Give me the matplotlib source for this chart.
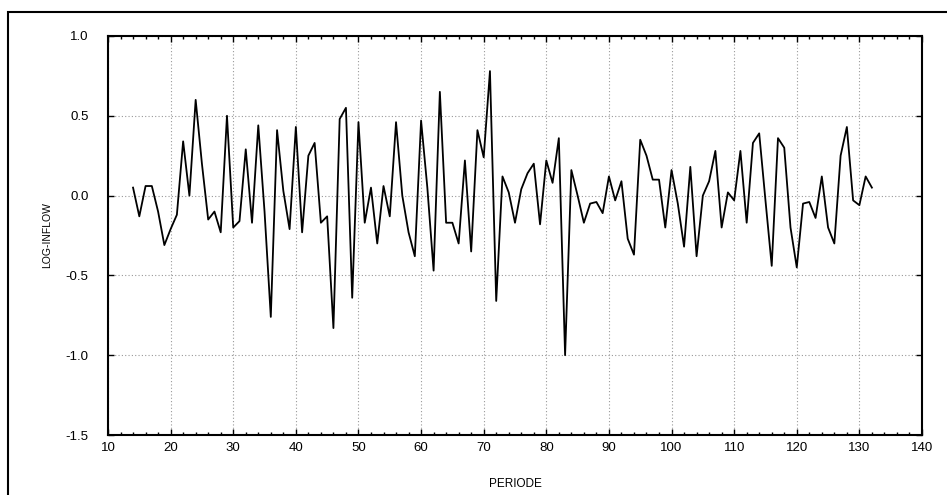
import matplotlib
matplotlib.use('Agg')
import matplotlib.pyplot as plt
from matplotlib.patches import Rectangle
from matplotlib.ticker import MultipleLocator
import numpy as np

plt.rcParams['font.family'] = ['Liberation Sans', 'DejaVu Sans']

# Periods 14..132
periode = list(range(14, 133))

# Log-inflow values
log_inflow = [
    0.05, -0.13, 0.06, 0.06, -0.10, -0.31, -0.21, -0.12, 0.34, 0.00,   # 14-23
    0.60, 0.20, -0.15, -0.10, -0.23, 0.50, -0.20, -0.16, 0.29, -0.17,  # 24-33
    0.44, -0.10, -0.76, 0.41, 0.03, -0.21, 0.43, -0.23, 0.25, 0.33,    # 34-43
    -0.17, -0.13, -0.83, 0.48, 0.55, -0.64, 0.46, -0.17, 0.05, -0.30,  # 44-53
    0.06, -0.13, 0.46, 0.00, -0.23, -0.38, 0.47, 0.05, -0.47, 0.65,    # 54-63
    -0.17, -0.17, -0.30, 0.22, -0.35, 0.41, 0.24, 0.78, -0.66, 0.12,   # 64-73
    0.02, -0.17, 0.04, 0.14, 0.20, -0.18, 0.22, 0.08, 0.36, -1.00,     # 74-83
    0.16, 0.00, -0.17, -0.05, -0.04, -0.11, 0.12, -0.03, 0.09, -0.27,  # 84-93
    -0.37, 0.35, 0.25, 0.10, 0.10, -0.20, 0.16, -0.05, -0.32, 0.18,    # 94-103
    -0.38, 0.00, 0.09, 0.28, -0.20, 0.02, -0.03, 0.28, -0.17, 0.33,    # 104-113
    0.39, -0.03, -0.44, 0.36, 0.30, -0.20, -0.45, -0.05, -0.04, -0.14, # 114-123
    0.12, -0.20, -0.30, 0.25, 0.43, -0.03, -0.06, 0.12, 0.05,          # 124-132
]

x_ticks = list(range(10, 141, 10))
y_ticks = [-1.5, -1.0, -0.5, 0.0, 0.5, 1.0]

fig = plt.figure(figsize=(9.47, 4.95), dpi=100)
ax = fig.add_axes([108 / 947, 1 - 435 / 495, (922 - 108) / 947, (435 - 36) / 495])

# outer frame around the whole picture
fig.patches.append(Rectangle((8 / 947, -0.1), 1.5, 1 - 11.5 / 495 + 0.1,
                             transform=fig.transFigure, fill=False,
                             edgecolor='black', linewidth=1.5))

ax.plot(periode, log_inflow, color='black', linewidth=1.3)

ax.set_xlim(10, 140)
ax.set_ylim(-1.5, 1.0)
ax.set_xticks(x_ticks)
ax.set_yticks(y_ticks)
ax.set_yticklabels([f"{v:.1f}" for v in y_ticks])
ax.xaxis.set_minor_locator(MultipleLocator(2))

ax.tick_params(axis='both', which='both', direction='in', top=True, right=True,
               labelsize=9.5, colors='black')
ax.tick_params(axis='both', which='major', length=4, width=1)
ax.tick_params(axis='x', which='minor', length=2.5, width=1)
ax.tick_params(axis='x', which='major', pad=5)
ax.tick_params(axis='y', which='major', pad=14)

ax.grid(True, which='major', linestyle=(0, (1, 2)), color='#999999', linewidth=0.8)
for s in ax.spines.values():
    s.set_linewidth(1.5)

ax.set_xlabel("PERIODE", fontsize=8.5, labelpad=17)
ax.set_ylabel("LOG-INFLOW", fontsize=7.5, labelpad=10)

fig.savefig("out.png", dpi=100)
